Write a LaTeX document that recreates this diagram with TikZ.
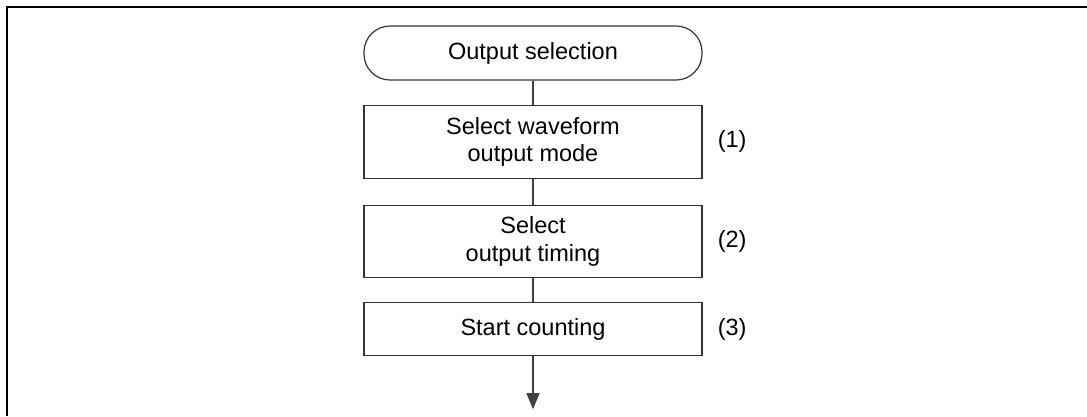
\documentclass[tikz,border=0pt]{standalone}
\usepackage{fontspec}
\setmainfont{Liberation Sans}
\usetikzlibrary{positioning,arrows.meta}

\tikzset{
  flowbox/.style={draw=black!80, line width=1.2pt, minimum width=338pt, align=center,
    inner sep=0pt, font=\fontsize{23.5}{27.5}\selectfont},
  termbox/.style={flowbox, rounded corners=26pt, minimum height=54pt},
  steplabel/.style={font=\fontsize{23.5}{27.5}\selectfont, inner sep=0pt},
  flowline/.style={draw=black!75, line width=1.2pt},
}

\begin{document}
\begin{tikzpicture}[x=1pt,y=-1pt]
\useasboundingbox (0,0) rectangle (1087,416);
% outer frame, cut off at right and bottom
\draw[line width=1.5pt] (1087,7) -- (7,7) -- (7,416);

\node[termbox] (start) at (533,53) {Output selection};
\node[flowbox, minimum height=73pt, below=24pt of start] (mode) {Select waveform\\output mode};
\node[flowbox, minimum height=72pt, below=26pt of mode] (timing) {Select\\output timing};
\node[flowbox, minimum height=53pt, below=24pt of timing] (count) {Start counting};
\coordinate[below=53pt of count] (next);

\node[steplabel, right=15pt of mode] (lmode) {(1)};
\node[steplabel, right=15pt of timing] (ltiming) {(2)};
\node[steplabel, right=15pt of count] (lcount) {(3)};

\draw[flowline] (start) -- (mode);
\draw[flowline] (mode) -- (timing);
\draw[flowline] (timing) -- (count);
\draw[flowline, -{Triangle[width=13pt,length=16pt]}] (count) -- (next);
\end{tikzpicture}
\end{document}
